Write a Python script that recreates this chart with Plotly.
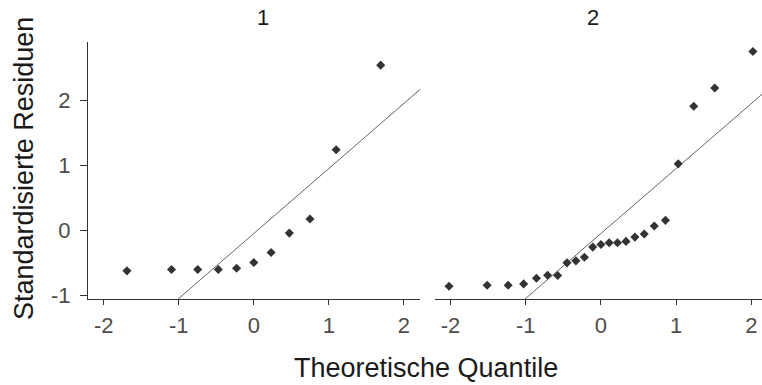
import plotly.graph_objects as go

# Panel 1 (n = 11)
q1 = [-1.691, -1.097, -0.748, -0.473, -0.230, 0.0, 0.230, 0.473, 0.748, 1.097, 1.691]
r1 = [-0.625, -0.605, -0.605, -0.605, -0.584, -0.497, -0.342, -0.044, 0.172, 1.237, 2.539]

# Panel 2 (n = 23)
q2 = [-2.019, -1.512, -1.233, -1.027, -0.857, -0.709, -0.575, -0.451, -0.333, -0.220, -0.109, 0.0,
      0.109, 0.220, 0.333, 0.451, 0.575, 0.709, 0.857, 1.027, 1.233, 1.512, 2.019]
r2 = [-0.862, -0.846, -0.846, -0.826, -0.738, -0.692, -0.697, -0.502, -0.471, -0.415, -0.260, -0.219,
      -0.193, -0.193, -0.172, -0.106, -0.059, 0.064, 0.152, 1.021, 1.906, 2.188, 2.750]

# reference lines (intercept, slope)
line1 = (-0.05, 1.0)
line2 = (-0.05, 1.0)

panel_titles = ["1", "2"]
x_ticks = [-2, -1, 0, 1, 2]
x_ticklabels = ["-2", "-1", "0", "1", "2"]
y_ticks = [-1, 0, 1, 2]
y_ticklabels = ["-1", "0", "1", "2"]
x_title = "Theoretische Quantile"
y_title = "Standardisierte Residuen"

FONT = "Liberation Sans, Arial, sans-serif"
PT = "#333333"

fig = go.Figure()
lx = [-3, 3]
for i, (q, r, ln) in enumerate([(q1, r1, line1), (q2, r2, line2)]):
    xa = "x" if i == 0 else "x2"
    ya = "y" if i == 0 else "y2"
    fig.add_trace(go.Scatter(x=lx, y=[ln[0] + ln[1] * v for v in lx], mode="lines",
                             line=dict(color="#222222", width=0.7), xaxis=xa, yaxis=ya,
                             showlegend=False, hoverinfo="skip"))
    fig.add_trace(go.Scatter(x=q, y=r, mode="markers",
                             marker=dict(symbol="diamond", size=7, color=PT, line=dict(width=0)),
                             xaxis=xa, yaxis=ya, showlegend=False, cliponaxis=False))

xcommon = dict(showline=True, linecolor="#333333", linewidth=1, ticks="outside", ticklen=5,
               tickwidth=1, tickcolor="#333333", tickvals=x_ticks, ticktext=x_ticklabels,
               showgrid=False, zeroline=False, ticklabelstandoff=2,
               tickfont=dict(family=FONT, size=22, color="#4d4d4d"))

fig.update_layout(
    width=762, height=385,
    margin=dict(l=88, r=0, t=42, b=86),
    paper_bgcolor="white", plot_bgcolor="white",
    xaxis=dict(domain=[0, 0.4932], range=[-2.21, 2.22], anchor="y", **xcommon),
    xaxis2=dict(domain=[0.5144, 1.0], range=[-2.209, 2.14], anchor="y2", **xcommon),
    yaxis=dict(range=[-1.058, 2.895], showline=True, linecolor="#333333", linewidth=1,
               ticks="outside", ticklen=7, tickwidth=1, tickcolor="#333333",
               tickvals=y_ticks, ticktext=y_ticklabels,
               showgrid=False, zeroline=False, ticklabelstandoff=5,
               tickfont=dict(family=FONT, size=22, color="#4d4d4d")),
    yaxis2=dict(range=[-1.058, 2.895], anchor="x2", matches="y", showline=False, showticklabels=False,
                ticks="", showgrid=False, zeroline=False),
    font=dict(family=FONT),
)

annots = [
    dict(text=panel_titles[0], x=(254.5 - 88) / 674, y=1.0934, xref="paper", yref="paper",
         showarrow=False, font=dict(family=FONT, size=22, color="#1a1a1a"), yanchor="middle"),
    dict(text=panel_titles[1], x=(601 - 88) / 674, y=1.0934, xref="paper", yref="paper",
         showarrow=False, font=dict(family=FONT, size=22, color="#1a1a1a"), yanchor="middle"),
    dict(text=x_title, x=(425.5 - 88) / 674, y=-0.2685, xref="paper", yref="paper",
         showarrow=False, font=dict(family=FONT, size=27, color="#1a1a1a"), yanchor="middle"),
    dict(text=y_title, x=(24 - 88) / 674, y=0.506, xref="paper", yref="paper", textangle=-90,
         showarrow=False, font=dict(family=FONT, size=27, color="#1a1a1a"), xanchor="center", yanchor="middle"),
]
fig.update_layout(annotations=annots)

fig.write_html("out.html")
